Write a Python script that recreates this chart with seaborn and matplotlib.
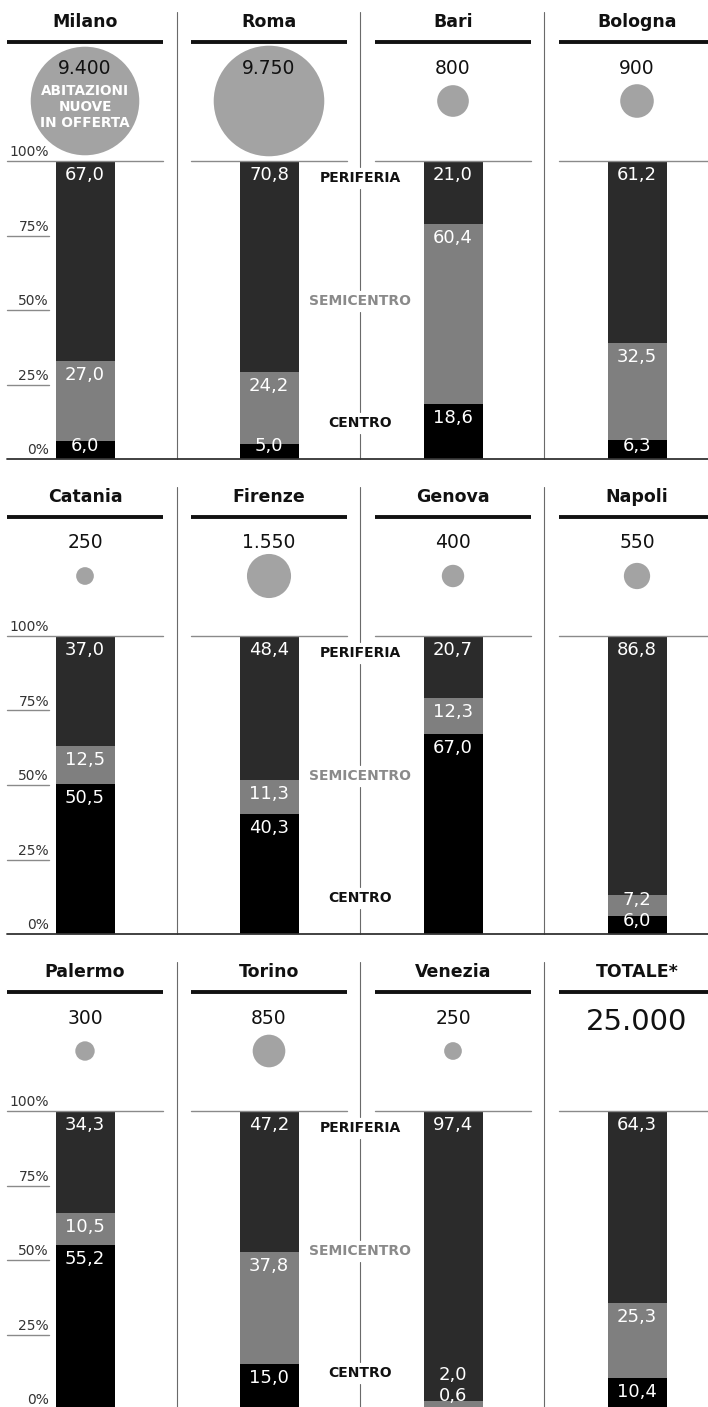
import matplotlib
matplotlib.use("Agg")
import matplotlib.pyplot as plt
import seaborn as sns
import pandas as pd

# ---------------- data ----------------
cities = ["Milano", "Roma", "Bari", "Bologna",
          "Catania", "Firenze", "Genova", "Napoli",
          "Palermo", "Torino", "Venezia", "TOTALE*"]
offerta = [9400, 9750, 800, 900, 250, 1550, 400, 550, 300, 850, 250, 25000]
centro = [6.0, 5.0, 18.6, 6.3, 50.5, 40.3, 67.0, 6.0, 55.2, 15.0, 0.6, 10.4]
semicentro = [27.0, 24.2, 60.4, 32.5, 12.5, 11.3, 12.3, 7.2, 10.5, 37.8, 2.0, 25.3]
periferia = [67.0, 70.8, 21.0, 61.2, 37.0, 48.4, 20.7, 86.8, 34.3, 47.2, 97.4, 64.3]
tick_values = [100, 75, 50, 25, 0]
tick_labels = ["100%", "75%", "50%", "25%", "0%"]
zone_names = ["PERIFERIA", "SEMICENTRO", "CENTRO"]
zone_pos = [94.3, 53.0, 12.1]
circle_note = "ABITAZIONI\nNUOVE\nIN OFFERTA"

# ---------------- style ----------------
sns.set_style("white")
plt.rcParams['font.family'] = ['DejaVu Sans']

C_PER = "#2b2b2b"
C_SEMI = "#7f7f7f"
C_CEN = "#000000"
C_CIRC = "#a3a3a3"
C_SEP = "#6a6a6a"

W, H = 708, 1407
fig = plt.figure(figsize=(W / 100, H / 100), dpi=100)
fig.patch.set_facecolor("white")

over = fig.add_axes([0, 0, 1, 1], zorder=10)
over.set_facecolor("none")

PX0, PITCH_X, PW = 7, 184, 156
ROW_PITCH = 475
TITLE_Y, RULE_Y, NUM_Y, CIRC_Y = 22, 42, 68, 101
TOP_Y, BASE_Y = 161, 459
BAR_H = BASE_Y - TOP_Y
HALF = 0.8 * PW / 59 / 2   # x half-range so the bar is ~59 px wide


def fmt_int(v):
    return f"{v:,}".replace(",", ".")


def fmt_pct(v):
    return f"{v:.1f}".replace(".", ",")


def pct_to_px(p, row):
    return row * ROW_PITCH + TOP_Y + (100 - p) / 100 * BAR_H


circ_rows = []
for i, city in enumerate(cities):
    r, c = divmod(i, 4)
    x0 = PX0 + c * PITCH_X
    yoff = r * ROW_PITCH
    cx = x0 + PW / 2

    # --- bar axes ---
    top = yoff + TOP_Y
    bottom = yoff + BASE_Y
    ax = fig.add_axes([x0 / W, (H - bottom) / H, PW / W, BAR_H / H], zorder=5)
    ax.set_facecolor("none")
    cen, sem, per = centro[i], semicentro[i], periferia[i]
    sns.barplot(x=[city], y=[cen + sem + per], color=C_PER, saturation=1,
                width=0.8, errorbar=None, linewidth=0, ax=ax)
    sns.barplot(x=[city], y=[cen + sem], color=C_SEMI, saturation=1,
                width=0.8, errorbar=None, linewidth=0, ax=ax)
    sns.barplot(x=[city], y=[cen], color=C_CEN, saturation=1,
                width=0.8, errorbar=None, linewidth=0, ax=ax)
    ax.set_xlim(-HALF, HALF)
    ax.set_ylim(0, 100)
    ax.axis("off")

    lab_c = max(cen - 4.7, 4.5)
    lab_s = max(cen + sem - 4.7, lab_c + 7)
    lab_p = 100 - 4.7
    for val, ly in ((cen, lab_c), (sem, lab_s), (per, lab_p)):
        ax.text(0, ly, fmt_pct(val), ha="center", va="center",
                color="white", fontsize=13, zorder=6)

    tr = ax.get_yaxis_transform()
    # 100% line across the panel
    ax.plot([0, 1], [100, 100], transform=tr, color="#8a8a8a", lw=1.0,
            clip_on=False, zorder=1)
    if c == 0:
        for tv, tl in zip(tick_values, tick_labels):
            ax.text((49 - x0) / PW, tv + 0.6, tl, transform=tr, ha="right",
                    va="bottom", fontsize=10, color="#333333")
            if tv not in (0, 100):
                ax.plot([0, (49 - x0) / PW], [tv, tv], transform=tr,
                        color="#8a8a8a", lw=1.0, clip_on=False)

    # --- header ---
    over.text(cx, yoff + TITLE_Y, city, ha="center", va="center",
              fontsize=12.5, fontweight="bold", color="#111111")
    over.plot([x0, x0 + PW], [yoff + RULE_Y, yoff + RULE_Y], color="#111111",
              lw=2.8, solid_capstyle="butt")
    if city.startswith("TOTALE"):
        over.text(cx, yoff + NUM_Y + 4, fmt_int(offerta[i]), ha="center",
                  va="center", fontsize=21, color="#111111", zorder=12)
    else:
        over.text(cx, yoff + NUM_Y, fmt_int(offerta[i]), ha="center",
                  va="center", fontsize=13.5, color="#111111", zorder=12)
        circ_rows.append({"cx": cx, "cy": yoff + CIRC_Y, "val": offerta[i]})
    if i == 0:
        over.text(cx, yoff + 107, circle_note, ha="center", va="center",
                  fontsize=9.8, fontweight="bold", color="white",
                  linespacing=1.15, zorder=12)

# circles (area proportional to number of dwellings)
circ = pd.DataFrame(circ_rows)
vmax = circ["val"].max()
sns.scatterplot(data=circ, x="cx", y="cy", size="val", sizes=(0, 0.65 * vmax),
                size_norm=(0, vmax), color=C_CIRC, edgecolor="none",
                linewidth=0, legend=False, ax=over, zorder=11)

# separators, baselines and zone annotations
for r in range(3):
    yoff = r * ROW_PITCH
    for sx in (177, 544):
        over.plot([sx, sx], [yoff + 12, yoff + BASE_Y], color=C_SEP, lw=0.8)
    mid = 360
    ys = [pct_to_px(p, r) for p in zone_pos]
    segs = [(yoff + 12, ys[0] - 11), (ys[0] + 11, ys[1] - 11),
            (ys[1] + 11, ys[2] - 11), (ys[2] + 11, yoff + BASE_Y)]
    for a, b in segs:
        over.plot([mid, mid], [a, b], color=C_SEP, lw=0.8)
    for name, y in zip(zone_names, ys):
        col = "#8a8a8a" if name == "SEMICENTRO" else "#111111"
        over.text(mid, y, name, ha="center", va="center", fontsize=10,
                  fontweight="bold", color=col)
    over.plot([PX0, W], [yoff + BASE_Y, yoff + BASE_Y], color="#333333", lw=1.3)

over.set_xlim(0, W)
over.set_ylim(H, 0)
over.axis("off")

fig.savefig("out.png", dpi=100, facecolor="white")
